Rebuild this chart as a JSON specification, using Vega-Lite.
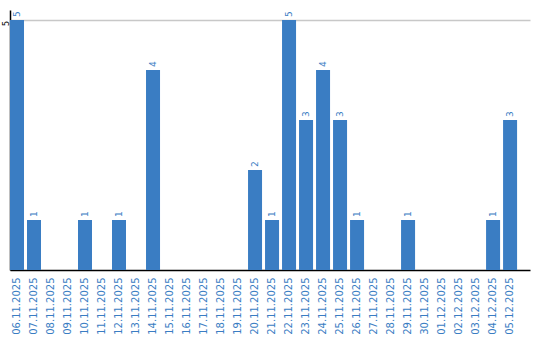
{
  "$schema": "https://vega.github.io/schema/vega-lite/v6.json",
  "autosize": {"type": "none"},
  "padding": {"left": 10, "top": 10, "right": 10, "bottom": 70},
  "width": 520,
  "height": 260,
  "background": "white",
  "config": {"view": {"stroke": null}, "font": "DejaVu Sans"},
  "data": {"values": [
    {"date": "06.11.2025", "count": 5},
    {"date": "07.11.2025", "count": 1},
    {"date": "08.11.2025", "count": 0},
    {"date": "09.11.2025", "count": 0},
    {"date": "10.11.2025", "count": 1},
    {"date": "11.11.2025", "count": 0},
    {"date": "12.11.2025", "count": 1},
    {"date": "13.11.2025", "count": 0},
    {"date": "14.11.2025", "count": 4},
    {"date": "15.11.2025", "count": 0},
    {"date": "16.11.2025", "count": 0},
    {"date": "17.11.2025", "count": 0},
    {"date": "18.11.2025", "count": 0},
    {"date": "19.11.2025", "count": 0},
    {"date": "20.11.2025", "count": 2},
    {"date": "21.11.2025", "count": 1},
    {"date": "22.11.2025", "count": 5},
    {"date": "23.11.2025", "count": 3},
    {"date": "24.11.2025", "count": 4},
    {"date": "25.11.2025", "count": 3},
    {"date": "26.11.2025", "count": 1},
    {"date": "27.11.2025", "count": 0},
    {"date": "28.11.2025", "count": 0},
    {"date": "29.11.2025", "count": 1},
    {"date": "30.11.2025", "count": 0},
    {"date": "01.12.2025", "count": 0},
    {"date": "02.12.2025", "count": 0},
    {"date": "03.12.2025", "count": 0},
    {"date": "04.12.2025", "count": 1},
    {"date": "05.12.2025", "count": 3}
  ]},
  "encoding": {
    "x": {
      "field": "date", "type": "nominal", "sort": null,
      "scale": {"paddingInner": 0.176, "paddingOuter": 0.38, "align": 0},
      "axis": {
        "title": null, "labelAngle": -90, "labelColor": "#3a7dc3", "labelFontSize": 10,
        "labelFont": "DejaVu Sans", "ticks": false, "labelPadding": 7,
        "domainColor": "#000000", "domainWidth": 1.5
      }
    },
    "y": {
      "field": "count", "type": "quantitative",
      "scale": {"domain": [0, 5.2], "nice": false},
      "axis": {
        "title": null, "values": [5], "labelAngle": -90, "labelAlign": "center", "labelBaseline": "middle",
        "labelColor": "#000000", "labelFontSize": 8, "labelFont": "DejaVu Sans", "labelOffset": 3,
        "ticks": false, "labelPadding": 4, "grid": true, "gridColor": "#c8c8c8", "gridWidth": 1.5,
        "domainColor": "#000000", "domainWidth": 1.5
      }
    }
  },
  "layer": [
    {"mark": {"type": "bar", "color": "#3a7dc3"}},
    {
      "transform": [{"filter": "datum.count > 0"}],
      "mark": {"type": "text", "angle": 270, "align": "left", "baseline": "middle", "dx": 3, "fontSize": 9, "font": "DejaVu Sans", "color": "#3a7dc3"},
      "encoding": {"text": {"field": "count", "type": "quantitative"}}
    }
  ]
}
